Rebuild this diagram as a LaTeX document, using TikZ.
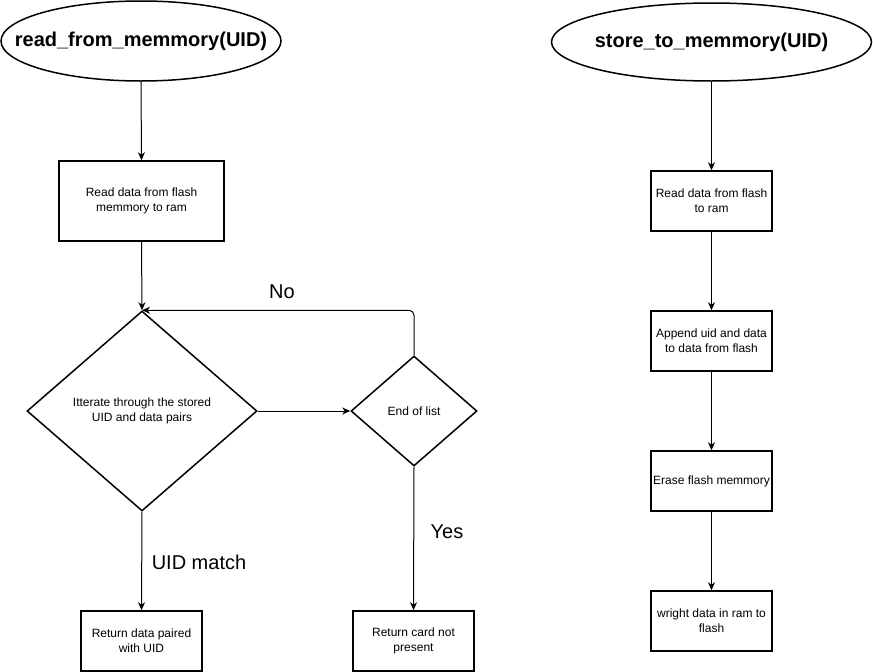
\documentclass[tikz,border=0pt]{standalone}
\usepackage{fontspec}
\setmainfont{Liberation Sans}
\usetikzlibrary{shapes.geometric,arrows.meta}
\begin{document}
\begin{tikzpicture}[x=1pt,y=-1pt,
  startnode/.style={draw,ellipse,line width=1.5pt,inner sep=0pt},
  starttext/.style={font=\fontsize{20}{24}\selectfont\bfseries,inner sep=0pt},
  boxnode/.style={draw,rectangle,line width=1.5pt,inner sep=0pt,align=center,font=\fontsize{12}{15}\selectfont},
  decnode/.style={draw,diamond,line width=1.5pt,inner sep=0pt,align=center,font=\fontsize{12}{15}\selectfont},
  lbl/.style={font=\fontsize{20}{24}\selectfont,inner sep=0pt},
  arr/.style={line width=1pt,-{Stealth[length=8pt,width=7pt,inset=2.5pt]}}
]
\useasboundingbox (0,0) rectangle (873,672);
% left column
\node[startnode,minimum width=280pt,minimum height=80pt,label={[starttext]center:read\_from\_memmory(UID)}] (e1) at (141,41) {};
\node[boxnode,minimum width=165pt,minimum height=80pt] (r1) at (141.5,201) {Read data from flash\\memmory to ram};
\node[decnode,minimum width=230pt,minimum height=200pt] (d1) at (142,411) {Itterate through the stored\\UID and data pairs};
\node[decnode,minimum width=126pt,minimum height=110pt] (d2) at (414,411) {End of list};
\node[boxnode,minimum width=121pt,minimum height=60pt] (ra) at (141.5,641) {Return data paired\\with UID};
\node[boxnode,minimum width=121pt,minimum height=60pt] (rb) at (413.5,641) {Return card not\\present};
\node[lbl] (no) at (282,292) {No};
\node[lbl] (yes) at (447,532) {Yes};
\node[lbl] (match) at (199,562) {UID match};
% right column
\node[startnode,minimum width=320pt,minimum height=78pt,label={[starttext]center:store\_to\_memmory(UID)}] (e2) at (711.5,42) {};
\node[boxnode,minimum width=121pt,minimum height=60pt] (s1) at (711.5,201) {Read data from flash\\to ram};
\node[boxnode,minimum width=121pt,minimum height=60pt] (s2) at (711.5,341) {Append uid and data\\to data from flash};
\node[boxnode,minimum width=121pt,minimum height=60pt] (s3) at (711.5,481) {Erase flash memmory};
\node[boxnode,minimum width=121pt,minimum height=60pt] (s4) at (711.5,621) {wright data in ram to\\flash};
% connectors
\draw[arr] (e1.south) -- (r1.north);
\draw[arr] (r1.south) -- (d1.north);
\draw[arr] (d1.east) -- (d2.west);
\draw[arr,rounded corners=5pt] (d2.north) |- (d1.north);
\draw[arr] (d1.south) -- (ra.north);
\draw[arr] (d2.south) -- (rb.north);
\draw[arr] (e2.south) -- (s1.north);
\draw[arr] (s1.south) -- (s2.north);
\draw[arr] (s2.south) -- (s3.north);
\draw[arr] (s3.south) -- (s4.north);
\end{tikzpicture}
\end{document}
